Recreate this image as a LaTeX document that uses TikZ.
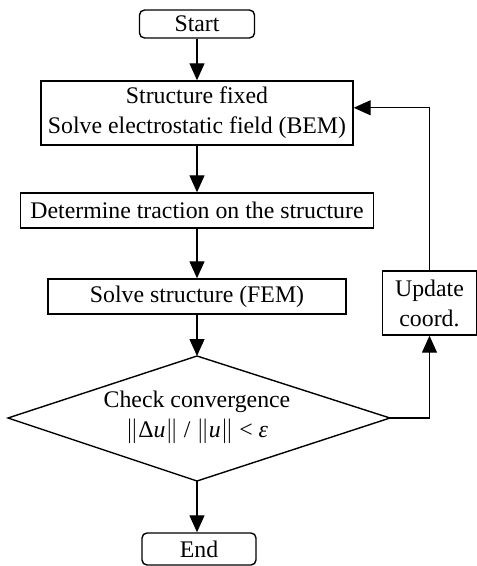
\documentclass[tikz,border=0pt]{standalone}
\usepackage{fontspec}
\setmainfont{Liberation Serif}
\usetikzlibrary{arrows.meta,calc}
\begin{document}
\begin{tikzpicture}[x=1pt,y=-1pt,
  txt/.style={font=\fontsize{23.8}{30}\selectfont, align=center},
  stepbox/.style={txt, draw, line width=1.4pt, rectangle, inner sep=0pt},
  termbox/.style={stepbox, rounded corners=5pt},
  arr/.style={line width=1.3pt, -{Triangle[length=17pt,width=15pt]}},
  ln/.style={line width=1.4pt}]
\useasboundingbox (0,0) rectangle (477,566);
\node[termbox, minimum width=115pt, minimum height=28pt] (start) at (197,24) {Start};
\node[stepbox, minimum width=312pt, minimum height=64pt] (fix) at (197,113) {Structure fixed\\Solve electrostatic field (BEM)};
\node[stepbox, minimum width=353pt, minimum height=35pt] (trac) at (197,210.5) {Determine traction on the structure};
\node[stepbox, minimum width=298pt, minimum height=35pt] (fem) at (197,296.5) {Solve structure (FEM)};
\coordinate (dt) at (197,356);
\coordinate (dl) at (8,418);
\coordinate (dr) at (390,418);
\coordinate (db) at (197,481);
\draw[ln] (dt) -- (dr) -- (db) -- (dl) -- cycle;
\node[txt, inner sep=0pt] (chk) at (197,417) {Check convergence\\$\|$Δ\textit{u}$\|$ / $\|$\textit{u}$\|$ < \textit{ε}};
\node[termbox, minimum width=114pt, minimum height=32pt] (end) at (199,549) {End};
\node[stepbox, minimum width=94pt, minimum height=64pt] (upd) at (429.5,303) {Update\\coord.};
\draw[arr] (start) -- (fix);
\draw[arr] (fix) -- (trac);
\draw[arr] (trac) -- (fem);
\draw[arr] (fem) -- (dt);
\draw[arr] (db) -- (db |- end.north);
\draw[arr] (dr) -| (upd.south);
\draw[arr] (upd.north) |- ($(fix.north east)!0.42!(fix.south east)$);
\end{tikzpicture}
\end{document}
